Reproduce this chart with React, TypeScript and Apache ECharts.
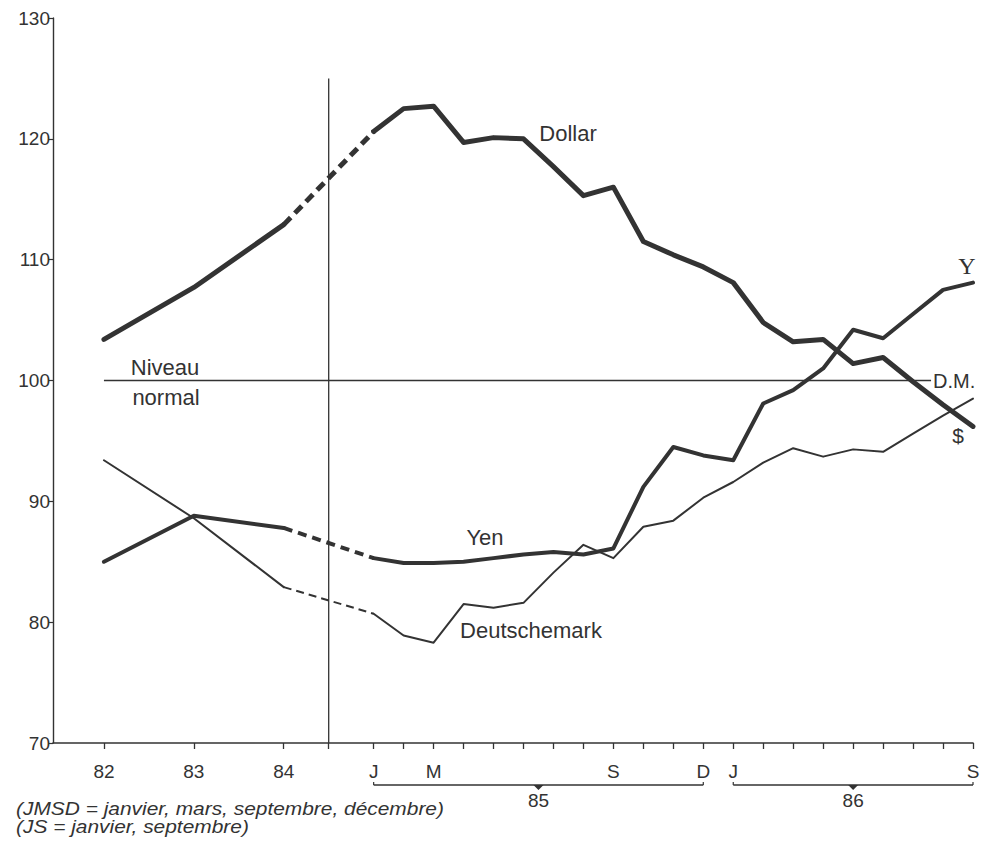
import React, { useEffect, useRef } from 'react';
import * as echarts from 'echarts';

// ---- axis / tick data ----
const yearLabels = ['82', '83', '84'];
const yearPos = [-9, -6, -3];
const breakPos = -1.5;
const monthLabels = ['J', 'F', 'M', 'A', 'M', 'J', 'J', 'A', 'S', 'O', 'N', 'D', 'J', 'F', 'M', 'A', 'M', 'J', 'J', 'A', 'S'];
const shownMonths = [0, 2, 8, 11, 12, 20];
const periodLabels = ['85', '86'];
const periodRanges = [[0, 11], [12, 20]];
const yMin = 70;
const yMax = 130;
const yStep = 10;

// ---- series values (index 100 = normal level) ----
const dollarYears = [103.4, 107.7, 112.9];
const dollarMonths = [120.6, 122.5, 122.7, 119.7, 120.1, 120.0, 117.7, 115.3, 116.0, 111.5, 110.4, 109.4, 108.1, 104.8, 103.2, 103.4, 101.4, 101.9, 99.9, 98.0, 96.2];
const yenYears = [85.0, 88.8, 87.8];
const yenMonths = [85.3, 84.9, 84.9, 85.0, 85.3, 85.6, 85.8, 85.6, 86.1, 91.2, 94.5, 93.8, 93.4, 98.1, 99.2, 101.0, 104.2, 103.5, 105.5, 107.5, 108.1];
const dmYears = [93.4, 88.6, 82.9];
const dmMonths = [80.7, 78.9, 78.3, 81.5, 81.2, 81.6, 84.1, 86.4, 85.3, 87.9, 88.4, 90.3, 91.6, 93.2, 94.4, 93.7, 94.3, 94.1, 95.6, 97.1, 98.5];

const normalLevel = 100;
const normalSpan = [-9, 18.6];
const breakSpan = [70, 125];

const INK = '#333333';
const FONT = '"Liberation Sans", Arial, Helvetica, sans-serif';

function currencySeries(name: string, years: number[], months: number[], width: number, dash: number[]) {
  const common = {
    type: 'line',
    showSymbol: false,
    symbol: 'none',
    silent: true,
    z: 3,
  };
  const yearData = years.map((v, i) => [yearPos[i], v]);
  const monthData = months.map((v, i) => [i, v]);
  return [
    { ...common, name: name + '-a', data: yearData, lineStyle: { color: INK, width, join: 'round', cap: 'round' } },
    { ...common, name: name + '-b', data: [yearData[yearData.length - 1], monthData[0]], lineStyle: { color: INK, width, type: dash } },
    { ...common, name: name + '-c', data: monthData, lineStyle: { color: INK, width, join: 'round', cap: 'round' } },
  ];
}

export default function App() {
  const ref = useRef<HTMLDivElement>(null);
  useEffect(() => {
    if (!ref.current) return;
    const chart = echarts.init(ref.current, null, { renderer: 'svg' });
    const xLabelMap: Record<string, string> = {};
    yearPos.forEach((p, i) => (xLabelMap[String(p)] = yearLabels[i]));
    shownMonths.forEach((m) => (xLabelMap[String(m)] = monthLabels[m]));
    const xTickValues = [...yearPos, breakPos, ...monthLabels.map((_, i) => i)];
    const xLabelValues = [...yearPos, ...shownMonths];

    chart.setOption({
      animation: false,
      backgroundColor: '#ffffff',
      grid: { left: 53, right: 16, top: 18, bottom: 100 },
      xAxis: {
        type: 'value',
        min: -10.7,
        max: 20,
        axisLine: { show: true, onZero: false, lineStyle: { color: INK, width: 1.6 } },
        axisTick: { show: true, length: 6, lineStyle: { color: INK, width: 1.3 }, customValues: xTickValues },
        axisLabel: {
          show: true,
          customValues: xLabelValues,
          formatter: (v: number) => xLabelMap[String(v)] ?? '',
          color: INK,
          fontSize: 19,
          fontFamily: FONT,
          margin: 19,
        },
        splitLine: { show: false },
      },
      yAxis: {
        type: 'value',
        min: yMin,
        max: yMax,
        interval: yStep,
        axisLine: { show: true, onZero: false, lineStyle: { color: INK, width: 1.4 } },
        axisTick: { show: true, length: 5, lineStyle: { color: INK, width: 1.2 } },
        axisLabel: { color: INK, fontSize: 19, fontFamily: FONT, margin: 3 },
        splitLine: { show: false },
      },
      series: [
        {
          type: 'line', name: 'normal', showSymbol: false, symbol: 'none', silent: true,
          data: [[normalSpan[0], normalLevel], [normalSpan[1], normalLevel]],
          lineStyle: { color: INK, width: 1.4 }, z: 2,
        },
        {
          type: 'line', name: 'break', showSymbol: false, symbol: 'none', silent: true,
          data: [[breakPos, breakSpan[0]], [breakPos, breakSpan[1]]],
          lineStyle: { color: INK, width: 1.3 }, z: 2,
        },
        ...currencySeries('Dollar', dollarYears, dollarMonths, 5, [10, 6]),
        ...currencySeries('Yen', yenYears, yenMonths, 4, [9, 6]),
        ...currencySeries('Deutschemark', dmYears, dmMonths, 2, [8, 5]),
      ],
    });

    const px = (x: number, y: number) => chart.convertToPixel({ xAxisIndex: 0, yAxisIndex: 0 }, [x, y]) as number[];
    const axisY = px(0, yMin)[1];
    const bracketY = axisY + 42;
    const graphics: any[] = [];
    periodRanges.forEach((r, i) => {
      const x1 = px(r[0], yMin)[0];
      const x2 = px(r[1], yMin)[0];
      const mid = px((r[0] + r[1]) / 2, yMin)[0];
      graphics.push({ type: 'line', shape: { x1, y1: bracketY, x2, y2: bracketY }, style: { stroke: INK, lineWidth: 1.5 }, silent: true });
      graphics.push({ type: 'line', shape: { x1, y1: bracketY, x2: x1, y2: bracketY - 3 }, style: { stroke: INK, lineWidth: 1.2 }, silent: true });
      graphics.push({ type: 'line', shape: { x1: x2, y1: bracketY, x2, y2: bracketY - 3 }, style: { stroke: INK, lineWidth: 1.2 }, silent: true });
      graphics.push({ type: 'polygon', shape: { points: [[mid - 5, bracketY], [mid + 5, bracketY], [mid, bracketY + 5]] }, style: { fill: INK }, silent: true });
      graphics.push({
        type: 'text', x: mid, y: bracketY + 15, silent: true,
        style: { text: periodLabels[i], fill: INK, fontSize: 19, fontFamily: FONT, align: 'center', verticalAlign: 'middle' },
      });
    });

    const notes: [string, number, number, string, number, string?][] = [
      ['Dollar', 568, 133, 'center', 22],
      ['Yen', 485, 537, 'center', 22],
      ['Deutschemark', 531, 630, 'center', 22],
      ['Niveau', 165, 367, 'center', 22],
      ['normal', 166, 397, 'center', 22],
      ['Y', 967, 266, 'center', 24, '"Liberation Serif", "DejaVu Serif", serif'],
      ['D.M.', 933, 381, 'left', 20],
      ['$', 958, 435, 'center', 21],
    ];
    notes.forEach(([t, x, y, align, size, fam]) => {
      graphics.push({
        type: 'text', x, y, silent: true,
        style: { text: t, fill: INK, fontSize: size, fontFamily: fam || FONT, align, verticalAlign: 'middle' },
      });
    });
    graphics.push({
      type: 'text', x: 16, y: 808, scaleX: 1.1, silent: true,
      style: { text: '(JMSD = janvier, mars, septembre, décembre)', fill: INK, fontSize: 19, fontStyle: 'italic', fontFamily: FONT, align: 'left', verticalAlign: 'middle' },
    });
    graphics.push({
      type: 'text', x: 16, y: 826, scaleX: 1.1, silent: true,
      style: { text: '(JS = janvier, septembre)', fill: INK, fontSize: 19, fontStyle: 'italic', fontFamily: FONT, align: 'left', verticalAlign: 'middle' },
    });
    chart.setOption({ graphic: graphics });

    return () => chart.dispose();
  }, []);
  return <div ref={ref} style={{ position: 'fixed', left: 0, top: 0, width: 989, height: 843 }} />;
}
